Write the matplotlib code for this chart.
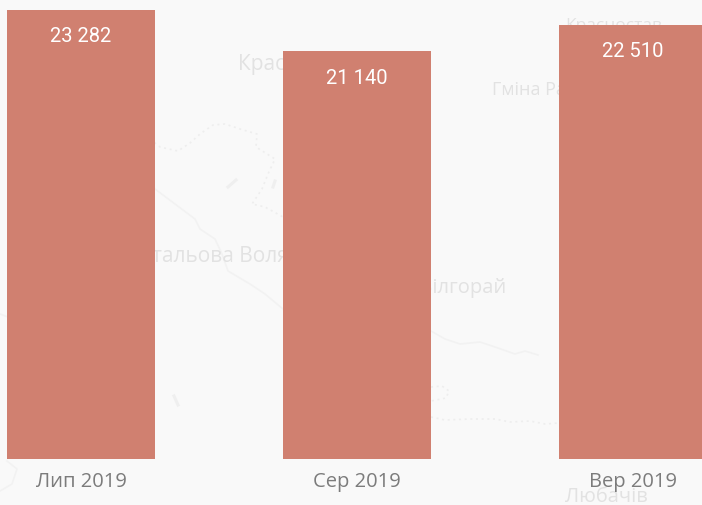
import matplotlib
matplotlib.use("Agg")
import matplotlib.pyplot as plt

months = ["Лип 2019", "Сер 2019", "Вер 2019"]
values = [23282, 21140, 22510]
value_labels = ["23 282", "21 140", "22 510"]

map_labels = [("Красник", 238, 64, 15), ("Гміна Радомишль", 492, 89, 13), ("Стальова Воля", 139, 256, 15),
              ("Білгорай", 420, 288, 14.5), ("Красностав", 565, 26, 12.5), ("Любачів", 565, 497, 14.5)]
map_dotted = [
    [(150, 140), (160, 148), (178, 152), (190, 144), (200, 135), (213, 126), (225, 125), (240, 130), (257, 135),
     (256, 148), (275, 160), (268, 175), (262, 190), (252, 205), (265, 208), (283, 218)],
    [(431, 418), (445, 421), (470, 420), (495, 420), (510, 423), (530, 422), (545, 425), (559, 424)],
    [(431, 388), (442, 387), (449, 392), (446, 399), (431, 402)],
]
map_solid = [
    [(155, 190), (175, 205), (195, 220), (200, 230), (215, 240), (222, 255), (228, 272), (250, 285), (265, 295), (283, 310)],
    [(431, 332), (445, 340), (460, 345), (480, 343), (495, 348), (515, 355), (525, 352), (538, 356)],
    [(0, 315), (8, 318)],
    [(7, 462), (17, 470), (12, 485), (0, 492)],
]
map_specks = [
    [(228, 188), (236, 181)],
    [(174, 397), (178, 406)],
    [(273, 188), (275, 182)],
]

BG = "#f9f9f9"
fig = plt.figure(figsize=(7.02, 5.06), dpi=100, facecolor=BG)

bg = fig.add_axes([0, 0, 1, 1], zorder=0)
bg.set_xlim(0, 702)
bg.set_ylim(506, 0)
bg.axis("off")
for s, x, y, fs in map_labels:
    bg.text(x, y, s, fontsize=fs, family="Open Sans", color="#e2e2e2", ha="left", va="center")
for path in map_dotted:
    bg.plot(*zip(*path), color="#eeeeee", lw=1.2, ls=(0, (1.2, 2.2)))
for path in map_solid:
    bg.plot(*zip(*path), color="#f2f2f2", lw=1.2)
for path in map_specks:
    bg.plot(*zip(*path), color="#efefef", lw=2.2)

ax = fig.add_axes([0, 46 / 506, 1, 460 / 506], zorder=1)
ax.patch.set_alpha(0)
pos = list(range(len(months)))
ax.bar(pos, values, width=148 / 276, color="#d08070", linewidth=0)
ax.set_xlim(-81 / 276, (702 - 81) / 276)
ax.set_ylim(0, 23282 * 460 / 449)
ax.set_yticks([])
ax.set_xticks(pos, months)
ax.tick_params(axis="x", length=0, pad=9, labelsize=14.5, labelcolor="#7c7c7c")
for lab in ax.get_xticklabels():
    lab.set_family("Open Sans")
for s in ax.spines.values():
    s.set_visible(False)
for p, v, t in zip(pos, values, value_labels):
    ax.annotate(t, (p, v), xytext=(0, -18.7), textcoords="offset points", ha="center", va="center",
                color="white", fontsize=14.5, family="Roboto")

fig.savefig("out.png", dpi=100, facecolor=BG)
